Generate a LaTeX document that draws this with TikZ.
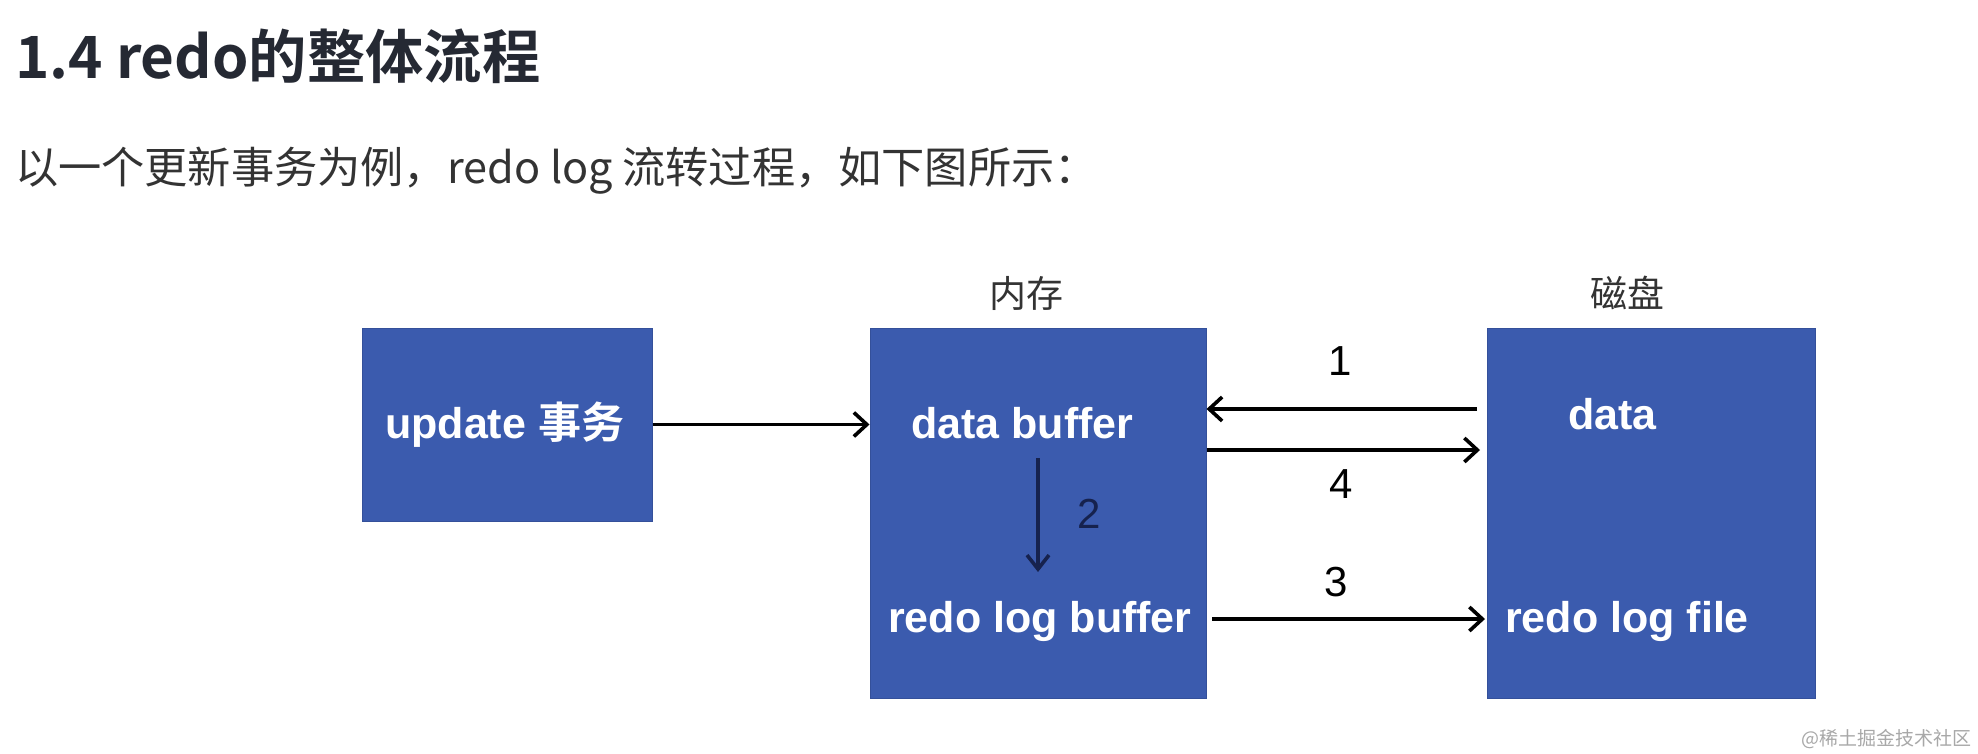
\documentclass[tikz,border=0pt]{standalone}
\usepackage{fontspec}
\setmainfont{Liberation Sans}
\newfontfamily\cjk{Noto Sans CJK SC}[BoldFont={Noto Sans CJK SC Bold}]
\usetikzlibrary{arrows.meta}
\definecolor{boxblue}{HTML}{3B5BAE}
\definecolor{boxedge}{HTML}{34509A}
\definecolor{navy}{HTML}{16224E}
\definecolor{titlegray}{HTML}{252933}
\definecolor{subgray}{HTML}{333333}
\definecolor{wmgray}{HTML}{A8A8A8}
\tikzset{
  box/.style={draw=boxedge, line width=1pt, fill=boxblue, inner sep=0pt, anchor=center},
  boxtext/.style={text=white, font=\fontsize{43}{43}\selectfont\bfseries, inner sep=0pt, anchor=base west},
  numlbl/.style={text=black, font=\fontsize{42}{42}\selectfont, inner sep=0pt, anchor=base},
  zone/.style={text=subgray, font=\cjk\fontsize{37}{37}\selectfont, inner sep=0pt, anchor=base},
  arr/.style={draw=black, line width=3.6pt, -{Straight Barb[length=13pt,width=24pt]}},
  arrnavy/.style={draw=navy, line width=3.6pt, -{Straight Barb[length=14pt,width=22pt]}}
}
\begin{document}
\begin{tikzpicture}[x=1pt,y=-1pt]
\useasboundingbox[fill=white] (0,0) rectangle (1978,754);

% heading
\node[anchor=base west, inner sep=0pt, text=titlegray, font=\cjk\bfseries\fontsize{58.3}{58.3}\selectfont] (title) at (15,79) {1.4 redo的整体流程};
\node[anchor=base west, inner sep=0pt, text=subgray, font=\cjk\fontsize{43.2}{43.2}\selectfont] (subtitle) at (15,184) {以一个更新事务为例，redo log 流转过程，如下图所示：};

% zone labels
\node[zone] (lmem) at (1026,307) {内存};
\node[zone] (ldisk) at (1627,307) {磁盘};

% boxes
\node[box, minimum width=290pt, minimum height=193pt] (upd) at (507,424.5) {};
\node[box, minimum width=336pt, minimum height=370pt] (mid) at (1038,513) {};
\node[box, minimum width=328pt, minimum height=370pt] (disk) at (1651,513) {};

% box texts
\node[boxtext] (tupd) at (385,438) {update {\cjk 事务}};
\node[boxtext] (tdbuf) at (911,438) {data buffer};
\node[boxtext] (trbuf) at (888,632) {redo log buffer};
\node[boxtext] (tdata) at (1568,429) {data};
\node[boxtext] (tfile) at (1505,632) {redo log file};

% levels
\coordinate (y1) at (0,409);
\coordinate (y4) at (0,450);
\coordinate (s1) at (1477,409);
\coordinate (e4) at (1480,450);
\coordinate (s3) at (1212,619);
\coordinate (e3) at (1485,619);
\coordinate (s2) at (1038,458);
\coordinate (e2) at (1038,572);

% connectors
\draw[arr] (upd.east) -- (upd.east -| mid.west);
\draw[arr] (s1) -- (mid.east |- y1);
\draw[arr] (mid.east |- y4) -- (e4);
\draw[arr] (s3) -- (e3);
\draw[arrnavy] (s2) -- (e2);

% step numbers
\node[numlbl] (n1) at (1340,375) {1};
\node[numlbl] (n4) at (1341,498) {4};
\node[numlbl] (n3) at (1336,596) {3};
\node[numlbl, text=navy] (n2) at (1089,528) {2};

% watermark
\node[anchor=base east, inner sep=0pt, text=wmgray, font=\cjk\fontsize{19}{19}\selectfont] (wm) at (1972,745) {@稀土掘金技术社区};
\end{tikzpicture}
\end{document}
